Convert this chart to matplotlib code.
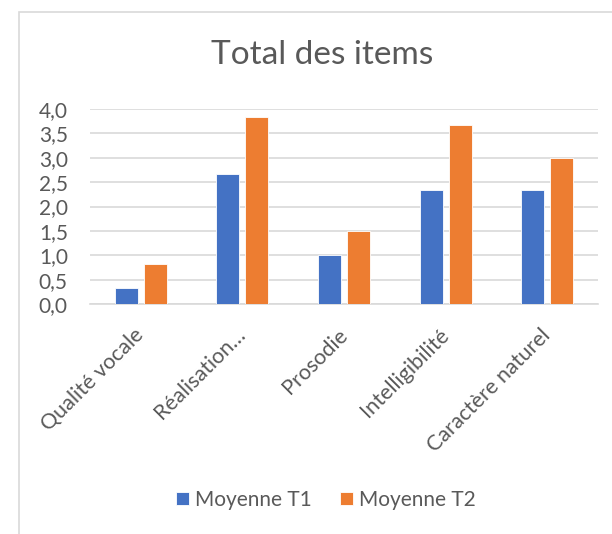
import numpy as np
import matplotlib
matplotlib.use('Agg')
import matplotlib.pyplot as plt
from matplotlib.patches import Rectangle
from matplotlib.ticker import FuncFormatter

categories = ['Qualité vocale', 'Réalisation…', 'Prosodie', 'Intelligibilité', 'Caractère naturel']
moyenne_t1 = [0.33, 2.67, 1.0, 2.33, 2.33]
moyenne_t2 = [0.83, 3.83, 1.5, 3.67, 3.0]
series_names = ['Moyenne T1', 'Moyenne T2']

plt.rcParams['font.family'] = ['Lato', 'DejaVu Sans']
grey = '#595959'

fig = plt.figure(figsize=(6.12, 5.34), dpi=100)
ax = fig.add_axes([90/612, 1-304/534, 508/612, 195/534])

# chart frame (cut off at right and bottom like the source)
fig.patches.append(Rectangle((19/612, -0.1), 1.2, 1-12/534+0.1, transform=fig.transFigure,
                             fill=False, edgecolor='#D9D9D9', linewidth=1.2))

x = np.arange(len(categories))
w = 0.226
gap = 0.06
ax.bar(x - (w+gap)/2, moyenne_t1, w, color='#4472C4', edgecolor='white', linewidth=0.6,
       label=series_names[0], zorder=3)
ax.bar(x + (w+gap)/2, moyenne_t2, w, color='#ED7D31', edgecolor='white', linewidth=0.6,
       label=series_names[1], zorder=3)

ax.set_xlim(-0.5, len(categories)-0.5)
ax.set_ylim(0, 4.0)
ax.set_yticks(np.arange(0, 4.01, 0.5))
ax.yaxis.set_major_formatter(FuncFormatter(lambda v, p: f'{v:.1f}'.replace('.', ',')))
ax.grid(axis='y', color='#D9D9D9', linewidth=1.2, zorder=0)
for s in ['top', 'right', 'left']:
    ax.spines[s].set_visible(False)
ax.spines['bottom'].set_color('#D9D9D9')
ax.spines['bottom'].set_linewidth(1.2)
ax.tick_params(length=0, labelsize=15, colors=grey)
ax.tick_params(axis='y', pad=16)
ax.tick_params(axis='x', pad=20, labelsize=15.5)

ax.set_xticks(x)
ax.set_xticklabels(categories, rotation=45, ha='right', va='center', rotation_mode='anchor')

fig.text(322/612, 1-55/534, 'Total des items', ha='center', va='center', fontsize=24, color=grey)

fig.legend(loc='center', bbox_to_anchor=(326/612, 1-500/534), ncol=2, frameon=False,
           fontsize=15, labelcolor=grey, handlelength=0.6, handleheight=0.6,
           handletextpad=0.3, columnspacing=1.35)

fig.savefig('out.png', dpi=100)
